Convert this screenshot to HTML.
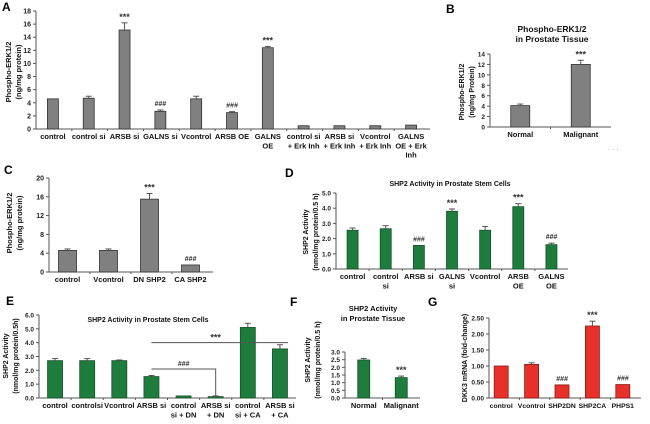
<!DOCTYPE html>
<html><head><meta charset="utf-8"><style>
body{margin:0;background:#fff}
svg{display:block;font-family:"Liberation Sans",Arial,sans-serif;font-weight:bold}
</style></head><body>
<svg id="fig" width="650" height="424" viewBox="0 0 650 424" xmlns="http://www.w3.org/2000/svg"></svg>
<script>
// Panel A
const aCats=[["control"],["control si"],["ARSB si"],["GALNS si"],["Vcontrol"],["ARSB OE"],["GALNS","OE"],["control si","+ Erk Inh"],["ARSB si","+ Erk Inh"],["Vcontrol","+ Erk Inh"],["GALNS","OE + Erk","Inh"]];
const aVals=[4.6,4.7,15.1,2.7,4.6,2.5,12.4,0.5,0.5,0.5,0.6];
const aErr=[0,0.3,1.1,0.2,0.4,0.15,0.2,0,0,0,0];
const aMarks=["","","***","###","","###","***","","","",""];
const aTicks=[0,2,4,6,8,10,12,14,16,18];
// Panel B
const bCats=[["Normal"],["Malignant"]];
const bVals=[4.1,12];
const bErr=[0.3,0.8];
const bMarks=["","***"];
const bTicks=[0,2,4,6,8,10,12,14];
// Panel C
const cCats=[["control"],["Vcontrol"],["DN SHP2"],["CA SHP2"]];
const cVals=[4.6,4.6,15.5,1.5];
const cErr=[0.3,0.3,1.2,0];
const cMarks=["","","***","###"];
const cTicks=[0,4,8,12,16,20];
// Panel D
const dCats=[["control"],["control","si"],["ARSB si"],["GALNS","si"],["Vcontrol"],["ARSB","OE"],["GALNS","OE"]];
const dVals=[2.55,2.65,1.55,3.8,2.55,4.1,1.6];
const dErr=[0.15,0.2,0,0.15,0.25,0.2,0.1];
const dMarks=["","","###","***","","***","###"];
const dTicks=[0,1,2,3,4,5];
// Panel E
const eCats=[["control"],["controlsi"],["Vcontrol"],["ARSB si"],["control","si + DN"],["ARSB si","+ DN"],["control","si + CA"],["ARSB si","+ CA"]];
const eVals=[2.7,2.7,2.7,1.55,0.15,0.1,5.1,3.55];
const eErr=[0.15,0.15,0.05,0.08,0,0.05,0.3,0.3];
const eMarks=["","","","","","","",""];
const eTicks=[0,1,2,3,4,5,6];
// Panel F
const fCats=[["Normal"],["Malignant"]];
const fVals=[2.48,1.33];
const fErr=[0.1,0.1];
const fMarks=["","***"];
const fTicks=[0,0.5,1,1.5,2,2.5,3];
// Panel G
const gCats=[["control"],["Vcontrol"],["SHP2DN"],["SHP2CA"],["PHPS1"]];
const gVals=[1.0,1.05,0.41,2.25,0.42];
const gErr=[0,0.05,0,0.15,0];
const gMarks=["","","###","***","###"];
const gTicks=[0,0.5,1,1.5,2,2.5];

const NS="http://www.w3.org/2000/svg";
const svg=document.getElementById('fig');
function mk(tag,attrs,parent,text){const e=document.createElementNS(NS,tag);for(const k in attrs)e.setAttribute(k,attrs[k]);if(text!==undefined)e.textContent=text;(parent||svg).appendChild(e);return e;}

function chart(p){
  const g=mk('g',{});
  
  
  const ymax=p.ticks[p.ticks.length-1];
  const y=v=>p.y0-(v/ymax)*(p.y0-p.ytop);
  const step=(p.x1-p.x0)/p.cats.length;
  const x=i=>p.x0+step*(i+0.5)+(p.xoff||0);
  const tfs=p.tickfs||7, xfs=p.xfs||7.5, yfs=p.yfs||7.5;
  const ya=mk('line',{x1:p.x0,y1:p.ytop,x2:p.x0,y2:p.y0,stroke:'#555','stroke-width':1},g);
  
  const xa=mk('line',{x1:p.x0,y1:p.y0,x2:p.x1,y2:p.y0,stroke:'#555','stroke-width':1},g);
  
  p.ticks.forEach(t=>{
    mk('line',{x1:p.x0-3,x2:p.x0,y1:y(t),y2:y(t),stroke:'#555'},g);
    const tl=mk('text',{x:p.x0-5,y:y(t)+2.5,'font-size':tfs,'text-anchor':'end',fill:'#222'},g,p.fmt?p.fmt(t):t);
    
  });
  for(let i=1;i<p.cats.length;i++){mk('line',{x1:p.x0+step*i,x2:p.x0+step*i,y1:p.y0,y2:p.y0+2,stroke:'#555'},g);}
  p.vals.forEach((v,i)=>{
    const cx=x(i);
    const r=mk('rect',{x:cx-p.bw/2,y:y(v),width:p.bw,height:p.y0-y(v),fill:p.fill,stroke:p.stroke,'stroke-width':0.8},g);
    
    
    const e=p.err[i];
    if(e>0){mk('line',{x1:cx,x2:cx,y1:y(v),y2:y(v+e),stroke:'#555'},g);mk('line',{x1:cx-3,x2:cx+3,y1:y(v+e),y2:y(v+e),stroke:'#555'},g);}
    const m=p.marks[i];
    if(m){const mt=mk('text',{x:cx,y:y(v+e)-(m==='***'?3:4),'font-size':m==='***'?9:7,'text-anchor':'middle',fill:'#333','font-style':m==='###'?'italic':'normal'},g,m);
      }
    p.cats[i].forEach((ln,j)=>{
      const t=mk('text',{x:cx,y:p.y0+10+j*9.3,'font-size':xfs,'text-anchor':'middle',fill:'#111'},g,ln);
      
    });
  });
  p.ytitle.forEach((ln,j)=>{
    const tx=p.ytx+j*10, ty=p.yty;
    const t=mk('text',{x:tx,y:ty,'font-size':yfs,'text-anchor':'middle',fill:'#111',transform:`rotate(-90 ${tx} ${ty})`},g,ln);
    
  });
  (p.title||[]).forEach((ln,j)=>{
    const t=mk('text',{x:p.tx,y:p.ty+j*10,'font-size':p.tfs||8,'text-anchor':'middle',fill:'#111'},g,ln);
    
  });
  const L=mk('text',{x:p.lx,y:p.ly,'font-size':12,fill:'#000'},g,p.letter);
  
  return {x,y,g};
}
const gray='#808080',gs='#333',green='#1e7d3c',gstroke='#15502a',red='#e8302a',rstroke='#8a1a15';
chart({name:'panel-a',letter:'A',lx:2,ly:11,cats:aCats,vals:aVals,err:aErr,marks:aMarks,ticks:aTicks,x0:36,x1:430,y0:129,ytop:11,bw:11,fill:gray,stroke:gs,xoff:-1,ytitle:['Phospho-ERK1/2','(ng/mg protein)'],ytx:11,yty:72});
chart({name:'panel-b',letter:'B',lx:446,ly:13,cats:bCats,vals:bVals,err:bErr,marks:bMarks,ticks:bTicks,x0:490,x1:611,y0:127,ytop:54,bw:19,fill:gray,stroke:gs,tickfs:6.5,yfs:7,ytitle:['Phospho-ERK1/2','(ng/mg Protein)'],ytx:464,yty:92,title:['Phospho-ERK1/2','in Prostate Tissue'],tx:552,ty:32,tfs:8.5});
chart({name:'panel-c',letter:'C',lx:4,ly:174,cats:cCats,vals:cVals,err:cErr,marks:cMarks,ticks:cTicks,x0:49,x1:213,y0:272,ytop:178,bw:18,fill:gray,stroke:gs,xoff:-2,ytitle:['Phospho-ERK1/2','(ng/mg protein)'],ytx:12,yty:223});
chart({name:'panel-d',letter:'D',lx:285,ly:177,cats:dCats,vals:dVals,err:dErr,marks:dMarks,ticks:dTicks,x0:336,x1:568,y0:269,ytop:193,bw:11,fill:green,stroke:gstroke,tickfs:6.5,yfs:7,fmt:t=>t.toFixed(1),ytitle:['SHP2 Activity','(nmol/mg protein/0.5 h)'],ytx:308,yty:232,title:['SHP2 Activity in Prostate Stem Cells'],tx:450,ty:186,tfs:7});
mk('text',{x:608,y:152,'font-size':7,fill:'#bbb'},svg,'· · ·');
const E=chart({name:'panel-e',letter:'E',lx:6,ly:305,cats:eCats,vals:eVals,err:eErr,marks:eMarks,ticks:eTicks,x0:39,x1:296,y0:398,ytop:315,bw:15,fill:green,stroke:gstroke,tickfs:6.5,yfs:7,fmt:t=>t.toFixed(1),ytitle:['SHP2 Activity','(nmol/mg protein/0.5h)'],ytx:8,yty:356,title:['SHP2 Activity in Prostate Stem Cells'],tx:148,ty:322,tfs:7});
{const y1=E.y(4.0),y2=E.y(2.1);
 const l1=mk('polyline',{points:`${E.x(3)},${y1} ${E.x(7)+8},${y1}`,fill:'none',stroke:'#555'});
 mk('text',{x:(E.x(3)+E.x(7))/2,y:y1-2,'font-size':9,'text-anchor':'middle',fill:'#333'},svg,'***');
 const l2=mk('polyline',{points:`${E.x(3)},${y2} ${E.x(5)},${y2} ${E.x(5)},${E.y(0.15)}`,fill:'none',stroke:'#555'});
 mk('text',{x:(E.x(3)+E.x(5))/2,y:y2-3,'font-size':7,'text-anchor':'middle',fill:'#333','font-style':'italic'},svg,'###');}
chart({name:'panel-f',letter:'F',lx:290,ly:306,cats:fCats,vals:fVals,err:fErr,marks:fMarks,ticks:fTicks,x0:345,x1:420,y0:398,ytop:352,bw:12,fill:green,stroke:gstroke,tickfs:6.5,yfs:7,fmt:t=>t.toFixed(1),ytitle:['SHP2 Activity','(nmol/mg protein/0.5 h)'],ytx:310,yty:360,title:['SHP2 Activity','in Prostate Tissue'],tx:373,ty:311,tfs:7.5});
chart({name:'panel-g',letter:'G',lx:428,ly:306,cats:gCats,vals:gVals,err:gErr,marks:gMarks,ticks:gTicks,x0:489,x1:641,y0:398,ytop:318,bw:14,fill:red,stroke:rstroke,xoff:-3,tickfs:6.5,xfs:6.8,yfs:7,fmt:t=>t.toFixed(2),ytitle:['DKK3 mRNA (fold-change)'],ytx:467,yty:358});
</script>
</body></html>
